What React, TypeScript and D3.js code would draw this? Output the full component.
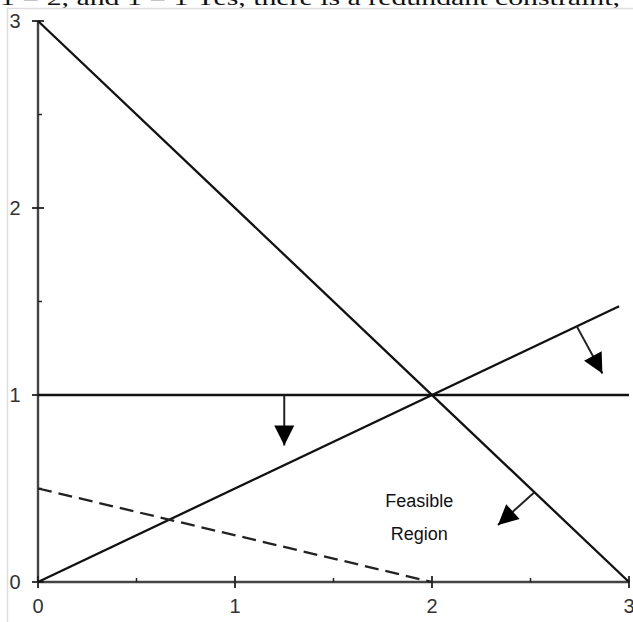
import React, { useRef, useEffect } from "react";
import * as d3 from "d3";

// constraint lines, in data units [x, y]
const lineSum = [[0, 3], [3, 0]];
const lineFlat = [[0, 1], [3, 1]];
const lineRatio = [[0, 0], [2.95, 1.475]];
const lineDashed = [[0, 0.5], [2, 0]];

// direction arrows: [start, tip]
const arrows = [
  [[1.25, 1], [1.25, 0.73]],
  [[2.735, 1.367], [2.865, 1.115]],
  [[2.52, 0.48], [2.335, 0.305]],
];

const xMajor = [0, 1, 2, 3];
const xMinor = [0.5, 1.5, 2.5];
const yMajor = [0, 1, 2, 3];
const yMinor = [0.5, 1.5, 2.5];

const regionLabel = ["Feasible", "Region"];
const pageText = "1 = 2, and 1 = 1 Yes, there is a redundant constraint,";

const App = () => {
  const svgRef = useRef(null);

  useEffect(() => {
    const width = 633;
    const height = 622;
    const svg = d3.select(svgRef.current).attr("width", width).attr("height", height);
    svg.selectAll("*").remove();

    const x = d3.scaleLinear().domain([0, 3]).range([38, 629]);
    const y = d3.scaleLinear().domain([0, 3]).range([582, 21]);

    // clipped text of the page above the figure
    svg
      .append("text")
      .attr("x", 0)
      .attr("y", 5)
      .attr("textLength", 620)
      .attr("lengthAdjust", "spacingAndGlyphs")
      .style("font-family", "'Liberation Serif', 'Times New Roman', serif")
      .style("font-size", "22px")
      .attr("fill", "#111")
      .text(pageText);

    // faint frame of the original picture
    svg.append("line").attr("x1", 7).attr("x2", width).attr("y1", 8.5).attr("y2", 8.5)
      .attr("stroke", "#ddd").attr("stroke-width", 1.5);
    svg.append("line").attr("x1", 7.5).attr("x2", 7.5).attr("y1", 8).attr("y2", height)
      .attr("stroke", "#ddd").attr("stroke-width", 1.5);

    const axisColor = "#444";
    const font = "Arial, 'Liberation Sans', sans-serif";

    // axes
    svg.append("line").attr("x1", x(0)).attr("x2", x(3)).attr("y1", y(0)).attr("y2", y(0))
      .attr("stroke", axisColor).attr("stroke-width", 2.4);
    svg.append("line").attr("x1", x(0)).attr("x2", x(0)).attr("y1", y(0)).attr("y2", y(3))
      .attr("stroke", axisColor).attr("stroke-width", 2.4);

    svg.selectAll(".xmaj").data(xMajor).join("line")
      .attr("x1", (d) => x(d)).attr("x2", (d) => x(d))
      .attr("y1", y(0) - 6).attr("y2", y(0) + 6)
      .attr("stroke", "#222").attr("stroke-width", 1.8);
    svg.selectAll(".xmin").data(xMinor).join("line")
      .attr("x1", (d) => x(d)).attr("x2", (d) => x(d))
      .attr("y1", y(0) - 4).attr("y2", y(0))
      .attr("stroke", "#222").attr("stroke-width", 1.5);
    svg.selectAll(".ymaj").data(yMajor).join("line")
      .attr("x1", x(0) - 6).attr("x2", x(0) + 6)
      .attr("y1", (d) => y(d)).attr("y2", (d) => y(d))
      .attr("stroke", "#222").attr("stroke-width", 1.8);
    svg.selectAll(".ymin").data(yMinor).join("line")
      .attr("x1", x(0)).attr("x2", x(0) + 4)
      .attr("y1", (d) => y(d)).attr("y2", (d) => y(d))
      .attr("stroke", "#222").attr("stroke-width", 1.5);

    svg.selectAll(".xlab").data(xMajor).join("text")
      .attr("x", (d) => x(d)).attr("y", y(0) + 31)
      .attr("text-anchor", "middle")
      .style("font-family", font).style("font-size", "20px").attr("fill", "#333")
      .text((d) => d);
    svg.selectAll(".ylab").data(yMajor).join("text")
      .attr("x", 15).attr("y", (d) => y(d) + 7)
      .attr("text-anchor", "middle")
      .style("font-family", font).style("font-size", "20px").attr("fill", "#333")
      .text((d) => d);

    // constraint lines
    const path = d3.line().x((d) => x(d[0])).y((d) => y(d[1]));
    [lineSum, lineFlat, lineRatio].forEach((pts) => {
      svg.append("path").attr("d", path(pts)).attr("fill", "none")
        .attr("stroke", "#111").attr("stroke-width", 2.3);
    });
    svg.append("path").attr("d", path(lineDashed)).attr("fill", "none")
      .attr("stroke", "#222").attr("stroke-width", 2.3).attr("stroke-dasharray", "14,7");

    // arrows
    const defs = svg.append("defs");
    defs.append("marker")
      .attr("id", "head")
      .attr("viewBox", "0 0 10 10")
      .attr("refX", 10).attr("refY", 5)
      .attr("markerUnits", "userSpaceOnUse")
      .attr("markerWidth", 21).attr("markerHeight", 20)
      .attr("orient", "auto")
      .append("path").attr("d", "M0,0 L10,5 L0,10 Z").attr("fill", "#000");

    svg.selectAll(".arrow").data(arrows).join("line")
      .attr("x1", (d) => x(d[0][0])).attr("y1", (d) => y(d[0][1]))
      .attr("x2", (d) => x(d[1][0])).attr("y2", (d) => y(d[1][1]))
      .attr("stroke", "#222").attr("stroke-width", 2)
      .attr("marker-end", "url(#head)");

    // region label
    svg.selectAll(".region").data(regionLabel).join("text")
      .attr("x", x(1.935)).attr("y", (d, i) => y(0.5) + 18 + i * 33)
      .attr("text-anchor", "middle")
      .style("font-family", font).style("font-size", "18px").attr("fill", "#111")
      .text((d) => d);
  }, []);

  return (
    <svg
      ref={svgRef}
      style={{ position: "absolute", left: 0, top: 0, background: "#fff" }}
    ></svg>
  );
};

export default App;
